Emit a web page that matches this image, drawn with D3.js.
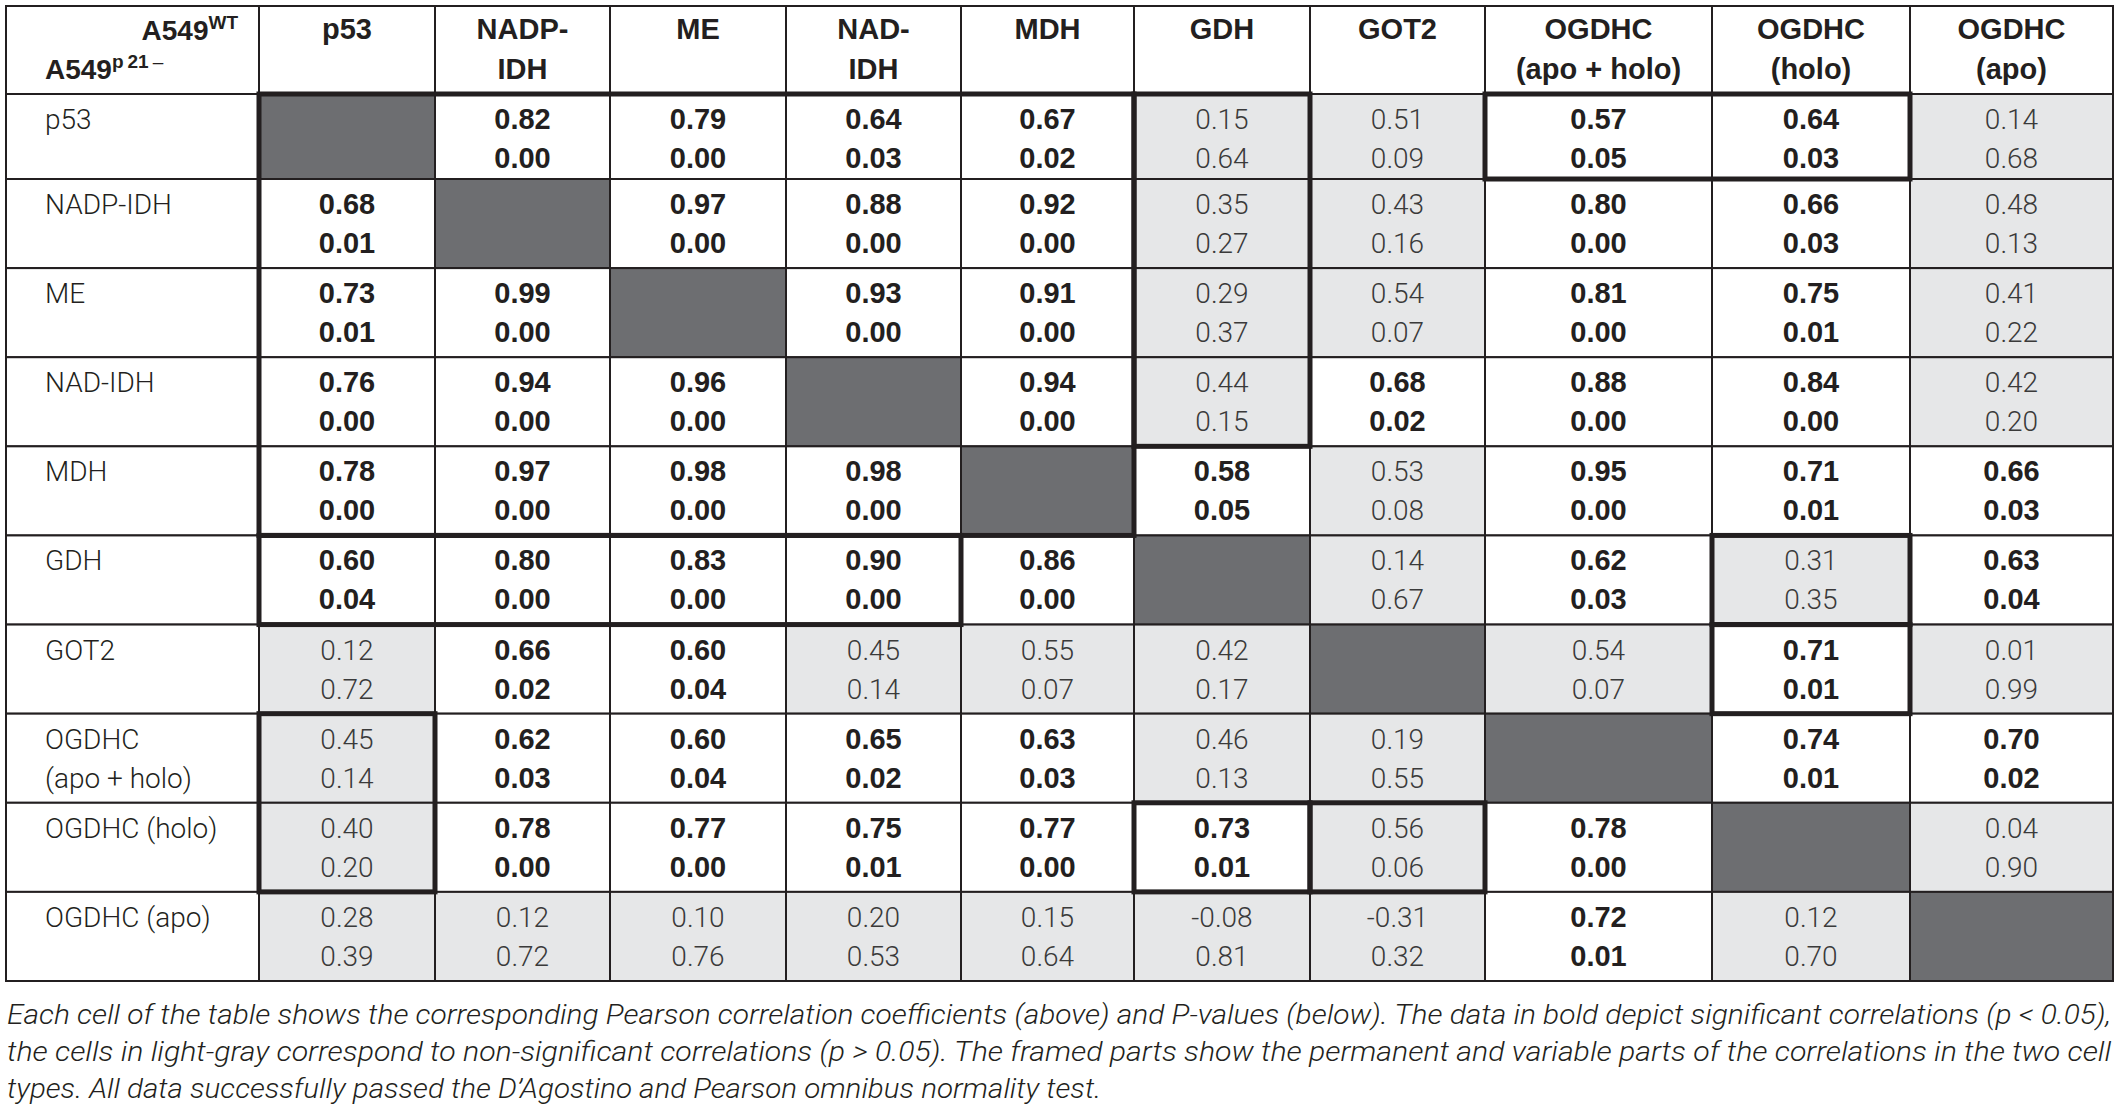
<!DOCTYPE html>
<html>
<head>
<meta charset="utf-8">
<script src="https://cdn.jsdelivr.net/npm/d3@7"></script>
<style>
body{margin:0;background:#fff}
svg{display:block}
</style>
</head>
<body>
<script>
// column headers (two lines where the table breaks them)
const colLabels = [["p53"],["NADP-","IDH"],["ME"],["NAD-","IDH"],["MDH"],["GDH"],["GOT2"],["OGDHC","(apo + holo)"],["OGDHC","(holo)"],["OGDHC","(apo)"]];
// row headers
const rowLabels = [["p53"],["NADP-IDH"],["ME"],["NAD-IDH"],["MDH"],["GDH"],["GOT2"],["OGDHC","(apo + holo)"],["OGDHC (holo)"],["OGDHC (apo)"]];
// pearson r, row by row (null = diagonal)
const rValues = [
  [null,0.82,0.79,0.64,0.67,0.15,0.51,0.57,0.64,0.14],
  [0.68,null,0.97,0.88,0.92,0.35,0.43,0.80,0.66,0.48],
  [0.73,0.99,null,0.93,0.91,0.29,0.54,0.81,0.75,0.41],
  [0.76,0.94,0.96,null,0.94,0.44,0.68,0.88,0.84,0.42],
  [0.78,0.97,0.98,0.98,null,0.58,0.53,0.95,0.71,0.66],
  [0.60,0.80,0.83,0.90,0.86,null,0.14,0.62,0.31,0.63],
  [0.12,0.66,0.60,0.45,0.55,0.42,null,0.54,0.71,0.01],
  [0.45,0.62,0.60,0.65,0.63,0.46,0.19,null,0.74,0.70],
  [0.40,0.78,0.77,0.75,0.77,0.73,0.56,0.78,null,0.04],
  [0.28,0.12,0.10,0.20,0.15,-0.08,-0.31,0.72,0.12,null]
];
// p-values, same layout
const pValues = [
  [null,0.00,0.00,0.03,0.02,0.64,0.09,0.05,0.03,0.68],
  [0.01,null,0.00,0.00,0.00,0.27,0.16,0.00,0.03,0.13],
  [0.01,0.00,null,0.00,0.00,0.37,0.07,0.00,0.01,0.22],
  [0.00,0.00,0.00,null,0.00,0.15,0.02,0.00,0.00,0.20],
  [0.00,0.00,0.00,0.00,null,0.05,0.08,0.00,0.01,0.03],
  [0.04,0.00,0.00,0.00,0.00,null,0.67,0.03,0.35,0.04],
  [0.72,0.02,0.04,0.14,0.07,0.17,null,0.07,0.01,0.99],
  [0.14,0.03,0.04,0.02,0.03,0.13,0.55,null,0.01,0.02],
  [0.20,0.00,0.00,0.01,0.00,0.01,0.06,0.00,null,0.90],
  [0.39,0.72,0.76,0.53,0.64,0.81,0.32,0.01,0.70,null]
];
// framed blocks: [firstRow, lastRow, firstCol, lastCol]
const frames = [[0,4,0,4],[0,3,5,5],[5,5,0,3],[0,0,7,8],[5,5,8,8],[6,6,8,8],[7,8,0,0],[8,8,5,5],[8,8,6,6]];
const caption = [
  "Each cell of the table shows the corresponding Pearson correlation coefficients (above) and P-values (below). The data in bold depict significant correlations (p < 0.05),",
  "the cells in light-gray correspond to non-significant correlations (p > 0.05). The framed parts show the permanent and variable parts of the correlations in the two cell",
  "types. All data successfully passed the D\u2019Agostino and Pearson omnibus normality test."
];

let width = 2117, height = 1108;
let svg = d3.select('body').append('svg').attr('width',width).attr('height',height);

// piecewise scales: index of grid line -> pixel
let x = d3.scaleLinear().domain(d3.range(12)).range([6,259,435,610,786,961,1134,1310,1485,1712,1910,2113]);
let y = d3.scaleLinear().domain([0,1,2,11]).range([6,94,179,981]);

let ink = '#231f20', dark = '#6d6e71', light = '#e6e7e8';
let boldFont = '"Liberation Sans", Arial, sans-serif';
let lightFont = 'Roboto, "Liberation Sans", sans-serif';
let fmt = d3.format('.2f');
let num = v => fmt(v).replace('\u2212','-');

// cells
let cells = [];
rValues.forEach((row,i)=>row.forEach((r,j)=>cells.push({i,j,r,p:pValues[i][j]})));
let sig = d => d.p <= 0.05;

let grid = svg.append('g').attr('id','grid');
// header cells
grid.selectAll('rect.hd').data(d3.range(11)).join('rect').attr('class','hd')
  .attr('x',k=>x(k)).attr('y',y(0)).attr('width',k=>x(k+1)-x(k)).attr('height',y(1)-y(0))
  .attr('fill','#fff').attr('stroke',ink).attr('stroke-width',2);
// row label cells
grid.selectAll('rect.rl').data(rowLabels).join('rect').attr('class','rl')
  .attr('x',x(0)).attr('y',(d,i)=>y(i+1)).attr('width',x(1)-x(0)).attr('height',(d,i)=>y(i+2)-y(i+1))
  .attr('fill','#fff').attr('stroke',ink).attr('stroke-width',2);
// value cells
grid.selectAll('rect.cell').data(cells).join('rect').attr('class','cell')
  .attr('x',d=>x(d.j+1)).attr('y',d=>y(d.i+1))
  .attr('width',d=>x(d.j+2)-x(d.j+1)).attr('height',d=>y(d.i+2)-y(d.i+1))
  .attr('fill',d=>d.r==null?dark:(sig(d)?'#fff':light))
  .attr('stroke',ink).attr('stroke-width',2);

// frames
svg.append('g').attr('id','frames').selectAll('rect').data(frames).join('rect')
  .attr('x',d=>x(d[2]+1)).attr('y',d=>y(d[0]+1))
  .attr('width',d=>x(d[3]+2)-x(d[2]+1)).attr('height',d=>y(d[1]+2)-y(d[0]+1))
  .attr('fill','none').attr('stroke',ink).attr('stroke-width',5);

// corner header
let corner = svg.append('g').attr('id','corner').attr('font-family',boldFont).attr('font-weight',700).attr('fill',ink);
let t1 = corner.append('text').attr('x',x(1)-21).attr('y',y(0)+34).attr('text-anchor','end').attr('font-size',28);
t1.append('tspan').text('A549');
t1.append('tspan').attr('font-size',19).attr('dy',-11).text('WT');
let t2 = corner.append('text').attr('x',x(0)+39).attr('y',y(0)+73).attr('font-size',28);
t2.append('tspan').text('A549');
t2.append('tspan').attr('font-size',19).attr('dy',-11).text('p');
t2.append('tspan').attr('font-size',19).attr('dx',4).text('21');
t2.append('tspan').attr('font-size',19).attr('dx',4).attr('font-weight',400).text('\u2013');

// column headers
let heads = svg.append('g').attr('id','heads').attr('font-family',boldFont).attr('font-weight',700)
  .attr('font-size',29).attr('fill',ink).attr('text-anchor','middle');
colLabels.forEach((lines,j)=>{
  lines.forEach((s,k)=>{
    heads.append('text').attr('x',(x(j+1)+x(j+2))/2).attr('y',y(0)+33+k*40).text(s);
  });
});

// row headers
let rows = svg.append('g').attr('id','rows').attr('font-family',lightFont).attr('font-weight',300)
  .attr('font-size',28).attr('fill',ink);
rowLabels.forEach((lines,i)=>{
  lines.forEach((s,k)=>{
    rows.append('text').attr('x',x(0)+39).attr('y',y(i+1)+35+k*39).text(s);
  });
});

// values
let vals = svg.append('g').attr('id','values').attr('text-anchor','middle');
let filled = cells.filter(d=>d.r!=null);
['r','p'].forEach((key,k)=>{
  vals.selectAll('text.'+key).data(filled).join('text').attr('class',key)
    .attr('x',d=>(x(d.j+1)+x(d.j+2))/2).attr('y',d=>y(d.i+1)+35+k*39)
    .attr('font-family',d=>sig(d)?boldFont:lightFont)
    .attr('font-weight',d=>sig(d)?700:300)
    .attr('font-size',d=>sig(d)?29:28)
    .attr('fill',d=>sig(d)?ink:'#3a3a3a')
    .text(d=>num(d[key]));
});

// caption
let cap = svg.append('g').attr('id','caption').attr('font-family',lightFont).attr('font-weight',300)
  .attr('font-style','italic').attr('font-size',28).attr('fill',ink);
cap.selectAll('text').data(caption).join('text')
  .attr('x',7).attr('y',(d,i)=>1024+i*37)
  .attr('textLength',(d,i)=>i<2?2104:1094).attr('lengthAdjust','spacingAndGlyphs')
  .text(d=>d);
</script>
</body>
</html>
